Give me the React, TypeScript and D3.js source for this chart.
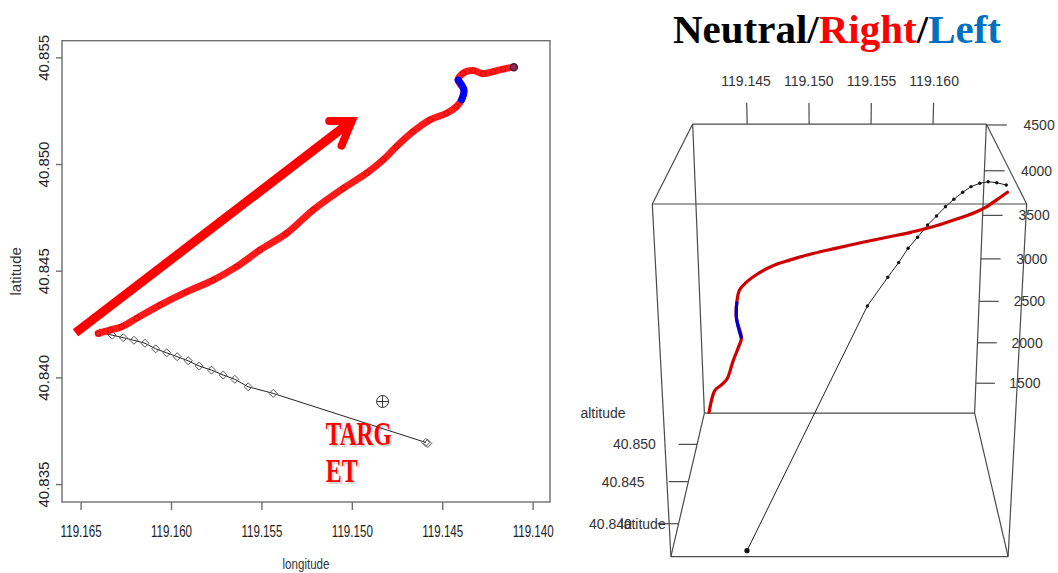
import { useEffect, useRef } from 'react';
import * as d3 from 'd3';

const W = 1058;
const H = 573;

// ground track plot (left)
const lonDomain = [119.16603, 119.13904];
const latDomain = [40.83416, 40.85578];
const lonTicks = [119.165, 119.16, 119.155, 119.15, 119.145, 119.14];
const latTicks = [40.835, 40.84, 40.845, 40.85, 40.855];

// "Right" trajectory (red); indices leftPart[0]..leftPart[1] are the "Left" (blue) part
const rightLon = [119.16403, 119.16338, 119.16273, 119.1619, 119.16061, 119.15914, 119.15767, 119.15637, 119.15508, 119.15361, 119.15214, 119.15048, 119.14918, 119.14827, 119.14753, 119.14661, 119.14568, 119.14476, 119.14421, 119.14393, 119.1438, 119.14412, 119.14384, 119.14329, 119.14274, 119.14218, 119.14163, 119.14104];
const rightLat = [40.84206, 40.84222, 40.84237, 40.84277, 40.84339, 40.84401, 40.84456, 40.84519, 40.84597, 40.84675, 40.84785, 40.84886, 40.84957, 40.85019, 40.85082, 40.85152, 40.85207, 40.85238, 40.85269, 40.85301, 40.85347, 40.85394, 40.85426, 40.85438, 40.85423, 40.85433, 40.85445, 40.85454];
const rightAlt = [4351, 4277, 4204, 4122, 4023, 3923, 3842, 3769, 3690, 3604, 3498, 3390, 3303, 3231, 3166, 3072, 2969, 2858, 2758, 2602, 2381, 2107, 1987, 1797, 1588, 1502, 1430, 1146];
const leftPart = [19, 21];

// "Neutral" trajectory (black)
const neutralLon = [119.16393, 119.16325, 119.16264, 119.16205, 119.16144, 119.16085, 119.16024, 119.15966, 119.15905, 119.15844, 119.15776, 119.15711, 119.15647, 119.15573, 119.15435, 119.14591];
const neutralLat = [40.84209, 40.84198, 40.84186, 40.84174, 40.8416, 40.84134, 40.84115, 40.84097, 40.84078, 40.84053, 40.84034, 40.84011, 40.83991, 40.83956, 40.83925, 40.83695];
const neutralAlt = [4418, 4444, 4459, 4450, 4425, 4385, 4329, 4268, 4191, 4120, 4015, 3924, 3800, 3682, 3427, 1140];

// target and annotations
const target = [119.1483, 40.83887];
const targetLabel = ['TARG', 'ET'];
const targetLabelAt = [119.15144, 40.83682];
const arrowLon = [119.16528, 119.15];
const arrowLat = [40.84209, 40.85202];
const headLon = [119.15125, 119.15, 119.15057];
const headLat = [40.85202, 40.85202, 40.85086];

// 3d view (right)
const cubeLon = [119.1406, 119.1643];
const cubeLat = [40.8365, 40.8547];
const cubeAlt = [1124, 4510];
const lonTicks3d = [119.145, 119.15, 119.155, 119.16];
const latTicks3d = [40.84, 40.845, 40.85];
const altTicks = [1500, 2000, 2500, 3000, 3500, 4000, 4500];

const titleParts = [
  { text: 'Neutral/', color: '#000' },
  { text: 'Right', color: '#ff0000' },
  { text: '/', color: '#000' },
  { text: 'Left', color: '#0070c0' },
];

const diamond = (s: number) => `M0,${-s}L${s},0L0,${s}L${-s},0Z`;

export default function App() {
  const svgRef = useRef<SVGSVGElement>(null);

  useEffect(() => {
    if (!svgRef.current) return;
    document.body.style.margin = '0';
    const svg = d3.select(svgRef.current);
    svg.selectAll('*').remove();
    svg.append('rect').attr('width', W).attr('height', H).attr('fill', '#fff');

    // ---------- left: longitude / latitude ----------
    const m = { left: 62, right: 550, top: 40.7, bottom: 502 };
    const x = d3.scaleLinear().domain(lonDomain).range([m.left, m.right]);
    const y = d3.scaleLinear().domain(latDomain).range([m.bottom, m.top]);
    const g = svg.append('g').style('font-family', '"Liberation Sans", Arial, sans-serif');

    g.append('rect')
      .attr('x', m.left)
      .attr('y', m.top)
      .attr('width', m.right - m.left)
      .attr('height', m.bottom - m.top)
      .attr('fill', 'none')
      .attr('stroke', '#6e6e6e')
      .attr('stroke-width', 1.4);

    const xAxis = g
      .append('g')
      .attr('transform', `translate(0,${m.bottom})`)
      .call(d3.axisBottom(x).tickValues(lonTicks).tickSize(8).tickFormat(d3.format('.3f')));
    xAxis.select('.domain').remove();
    xAxis.selectAll('line').attr('stroke', '#6e6e6e').attr('stroke-width', 1.4);
    xAxis
      .selectAll('text')
      .attr('y', 35)
      .attr('dy', null)
      .attr('fill', '#222')
      .attr('textLength', 41)
      .attr('lengthAdjust', 'spacingAndGlyphs')
      .style('font-size', '16px')
      .style('font-family', '"Liberation Sans", Arial, sans-serif');

    const yAxis = g
      .append('g')
      .attr('transform', `translate(${m.left},0)`)
      .call(d3.axisLeft(y).tickValues(latTicks).tickSize(6).tickFormat(d3.format('.3f')));
    yAxis.select('.domain').remove();
    yAxis.selectAll('line').attr('stroke', '#6e6e6e').attr('stroke-width', 1.4);
    yAxis
      .selectAll('text')
      .attr('x', null)
      .attr('dy', null)
      .attr('transform', 'translate(-13,0) rotate(-90)')
      .attr('text-anchor', 'middle')
      .attr('fill', '#222')
      .style('font-size', '15px')
      .style('font-family', '"Liberation Sans", Arial, sans-serif');

    g.append('text')
      .attr('x', (m.left + m.right) / 2)
      .attr('y', 569)
      .attr('text-anchor', 'middle')
      .attr('fill', '#333')
      .attr('textLength', 47)
      .attr('lengthAdjust', 'spacingAndGlyphs')
      .style('font-size', '14px')
      .text('longitude');
    g.append('text')
      .attr('transform', `translate(21,${(m.top + m.bottom) / 2}) rotate(-90)`)
      .attr('text-anchor', 'middle')
      .attr('fill', '#333')
      .style('font-size', '15px')
      .text('latitude');

    // big arrow
    g.append('line')
      .attr('x1', x(arrowLon[0]))
      .attr('y1', y(arrowLat[0]))
      .attr('x2', x(arrowLon[1]))
      .attr('y2', y(arrowLat[1]))
      .attr('stroke', '#ff0000')
      .attr('stroke-width', 9);
    g.append('path')
      .attr('d', d3.line<number>().x((i) => x(headLon[i])).y((i) => y(headLat[i]))([0, 1, 2]))
      .attr('fill', 'none')
      .attr('stroke', '#ff0000')
      .attr('stroke-width', 8)
      .attr('stroke-linejoin', 'miter')
      .attr('stroke-linecap', 'round');

    // neutral track
    const nIdx = d3.range(neutralLon.length);
    g.append('path')
      .attr('d', d3.line<number>().x((i) => x(neutralLon[i])).y((i) => y(neutralLat[i]))(nIdx))
      .attr('fill', 'none')
      .attr('stroke', '#222')
      .attr('stroke-width', 1);
    g.selectAll('path.nmark')
      .data(nIdx)
      .join('path')
      .attr('class', 'nmark')
      .attr('transform', (i) => `translate(${x(neutralLon[i])},${y(neutralLat[i])})`)
      .attr('d', diamond(4))
      .attr('fill', 'none')
      .attr('stroke', '#555')
      .attr('stroke-width', 1);
    const nl = nIdx.length - 1;
    g.append('path')
      .attr('transform', `translate(${x(neutralLon[nl]) + 2},${y(neutralLat[nl]) + 1})`)
      .attr('d', diamond(4))
      .attr('fill', 'none')
      .attr('stroke', '#555');

    // right track
    const rIdx = d3.range(rightLon.length);
    const rLine = d3
      .line<number>()
      .x((i) => x(rightLon[i]))
      .y((i) => y(rightLat[i]))
      .curve(d3.curveCatmullRom);
    g.append('path')
      .attr('d', rLine(rIdx))
      .attr('fill', 'none')
      .attr('stroke', '#ff1a1a')
      .attr('stroke-width', 7)
      .attr('stroke-linecap', 'round');
    const bIdx = d3.range(leftPart[0], leftPart[1] + 1);
    g.append('path')
      .attr('d', rLine(bIdx))
      .attr('fill', 'none')
      .attr('stroke', '#0000ff')
      .attr('stroke-width', 7)
      .attr('stroke-linecap', 'round');
    g.selectAll('circle.rmark')
      .data(rIdx)
      .join('circle')
      .attr('class', 'rmark')
      .attr('cx', (i) => x(rightLon[i]))
      .attr('cy', (i) => y(rightLat[i]))
      .attr('r', 2.6)
      .attr('fill', 'none')
      .attr('stroke', (i) => (i >= leftPart[0] && i <= leftPart[1] ? '#0000c0' : '#d00000'))
      .attr('stroke-width', 0.8);
    const rl = rIdx.length - 1;
    g.append('circle')
      .attr('cx', x(rightLon[rl]))
      .attr('cy', y(rightLat[rl]))
      .attr('r', 3.5)
      .attr('fill', '#a0204a')
      .attr('stroke', '#402040')
      .attr('stroke-width', 1.5);

    // target
    const tx = x(target[0]);
    const ty = y(target[1]);
    g.append('circle').attr('cx', tx).attr('cy', ty).attr('r', 6).attr('fill', 'none').attr('stroke', '#333');
    g.append('path')
      .attr('d', `M${tx - 6},${ty}H${tx + 6}M${tx},${ty - 6}V${ty + 6}`)
      .attr('stroke', '#333');

    const lx = x(targetLabelAt[0]);
    const ly = y(targetLabelAt[1]);
    targetLabel.forEach((t, k) => {
      [
        { dx: 2, fill: 'rgba(0,0,0,0.18)' },
        { dx: 0, fill: '#ff0000' },
      ].forEach((v) => {
        g.append('text')
          .attr('x', lx + v.dx)
          .attr('y', ly + k * 37 + v.dx)
          .attr('fill', v.fill)
          .attr('textLength', k === 0 ? 66 : 32)
          .attr('lengthAdjust', 'spacingAndGlyphs')
          .style('font-family', '"Liberation Serif", "Times New Roman", serif')
          .style('font-weight', 'bold')
          .style('font-size', '33px')
          .text(t);
      });
    });

    // ---------- right: 3d view ----------
    const X = d3.scaleLinear().domain(cubeLon).range([-1, 1]);
    const Y = d3.scaleLinear().domain(cubeLat).range([-1.02, 1.02]);
    const Z = d3.scaleLinear().domain(cubeAlt).range([-1.08, 1.08]);
    const phi = (20.75 * Math.PI) / 180;
    const co = Math.cos(phi);
    const si = Math.sin(phi);
    const dist = 8.27;
    const focal = 1298;
    const cx = 839.5;
    const cy = 325.4;
    const proj = (a: number, b: number, c: number): [number, number] => {
      const depth = b * co - c * si + dist;
      return [cx + (focal * a) / depth, cy - (focal * (b * si + c * co)) / depth];
    };

    const r3 = svg.append('g').style('font-family', '"Liberation Sans", Arial, sans-serif');
    const xs = X.range();
    const ys = Y.range();
    const zs = Z.range();
    const corners = d3.range(8).map((i) => [xs[i & 1], ys[(i >> 1) & 1], zs[(i >> 2) & 1]]);
    const edges: [number, number][] = [];
    for (let i = 0; i < 8; i++)
      for (let j = i + 1; j < 8; j++) {
        const d = i ^ j;
        if (d === 1 || d === 2 || d === 4) edges.push([i, j]);
      }
    const seg = (p: [number, number], q: [number, number], w = 1.2, c = '#4a4a4a') =>
      r3
        .append('line')
        .attr('x1', p[0])
        .attr('y1', p[1])
        .attr('x2', q[0])
        .attr('y2', q[1])
        .attr('stroke', c)
        .attr('stroke-width', w);
    edges.forEach(([i, j]) => {
      const a = corners[i];
      const b = corners[j];
      seg(proj(a[0], a[1], a[2]), proj(b[0], b[1], b[2]));
    });

    const label = (p: [number, number], t: string, anchor = 'middle') =>
      r3
        .append('text')
        .attr('x', p[0])
        .attr('y', p[1])
        .attr('dy', '0.35em')
        .attr('text-anchor', anchor)
        .attr('fill', '#333')
        .style('font-size', '14px')
        .text(t);

    const top = zs[1];
    const back = ys[1];
    lonTicks3d.forEach((t) => {
      seg(proj(X(t), back, top), proj(X(t), back, top + 0.145));
      label(proj(X(t), back, top + 0.29), d3.format('.3f')(t));
    });
    altTicks.forEach((t) => {
      seg(proj(1, back, Z(t)), proj(1.14, back, Z(t)));
      label(proj(1.36, back, Z(t)), String(t));
    });
    latTicks3d.forEach((t) => {
      seg(proj(-1, Y(t), zs[0]), proj(-1.13, Y(t), zs[0]));
      label(proj(-1.29, Y(t), zs[0]), d3.format('.3f')(t), 'end');
    });
    label(proj(-1.75, back, zs[0]), 'altitude');
    label(proj(-1.08, Y(latTicks3d[0]), zs[0]), 'latitude', 'end');

    // trajectories in 3d
    const nLine3 = d3
      .line<number>()
      .x((i) => proj(X(neutralLon[i]), Y(neutralLat[i]), Z(neutralAlt[i]))[0])
      .y((i) => proj(X(neutralLon[i]), Y(neutralLat[i]), Z(neutralAlt[i]))[1]);
    r3.append('path').attr('d', nLine3(nIdx)).attr('fill', 'none').attr('stroke', '#222').attr('stroke-width', 1);
    r3.selectAll('circle.n3')
      .data(nIdx)
      .join('circle')
      .attr('class', 'n3')
      .attr('cx', (i) => proj(X(neutralLon[i]), Y(neutralLat[i]), Z(neutralAlt[i]))[0])
      .attr('cy', (i) => proj(X(neutralLon[i]), Y(neutralLat[i]), Z(neutralAlt[i]))[1])
      .attr('r', (i) => (i === nl ? 2.6 : 1.7))
      .attr('fill', '#111');

    const rLine3 = d3
      .line<number>()
      .x((i) => proj(X(rightLon[i]), Y(rightLat[i]), Z(rightAlt[i]))[0])
      .y((i) => proj(X(rightLon[i]), Y(rightLat[i]), Z(rightAlt[i]))[1])
      .curve(d3.curveCatmullRom);
    r3.append('path')
      .attr('d', rLine3(rIdx))
      .attr('fill', 'none')
      .attr('stroke', '#cd0000')
      .attr('stroke-width', 3.2)
      .attr('stroke-linecap', 'round');
    r3.append('path')
      .attr('d', rLine3(bIdx))
      .attr('fill', 'none')
      .attr('stroke', '#0000cd')
      .attr('stroke-width', 3.2);

    // title
    const title = svg
      .append('text')
      .attr('x', 837)
      .attr('y', 43)
      .attr('text-anchor', 'middle')
      .style('font-family', '"Liberation Serif", "Times New Roman", serif')
      .style('font-weight', 'bold')
      .style('font-size', '41px');
    titleParts.forEach((p) => title.append('tspan').attr('fill', p.color).text(p.text));
  }, []);

  return <svg ref={svgRef} width={W} height={H} style={{ display: 'block' }} />;
}
